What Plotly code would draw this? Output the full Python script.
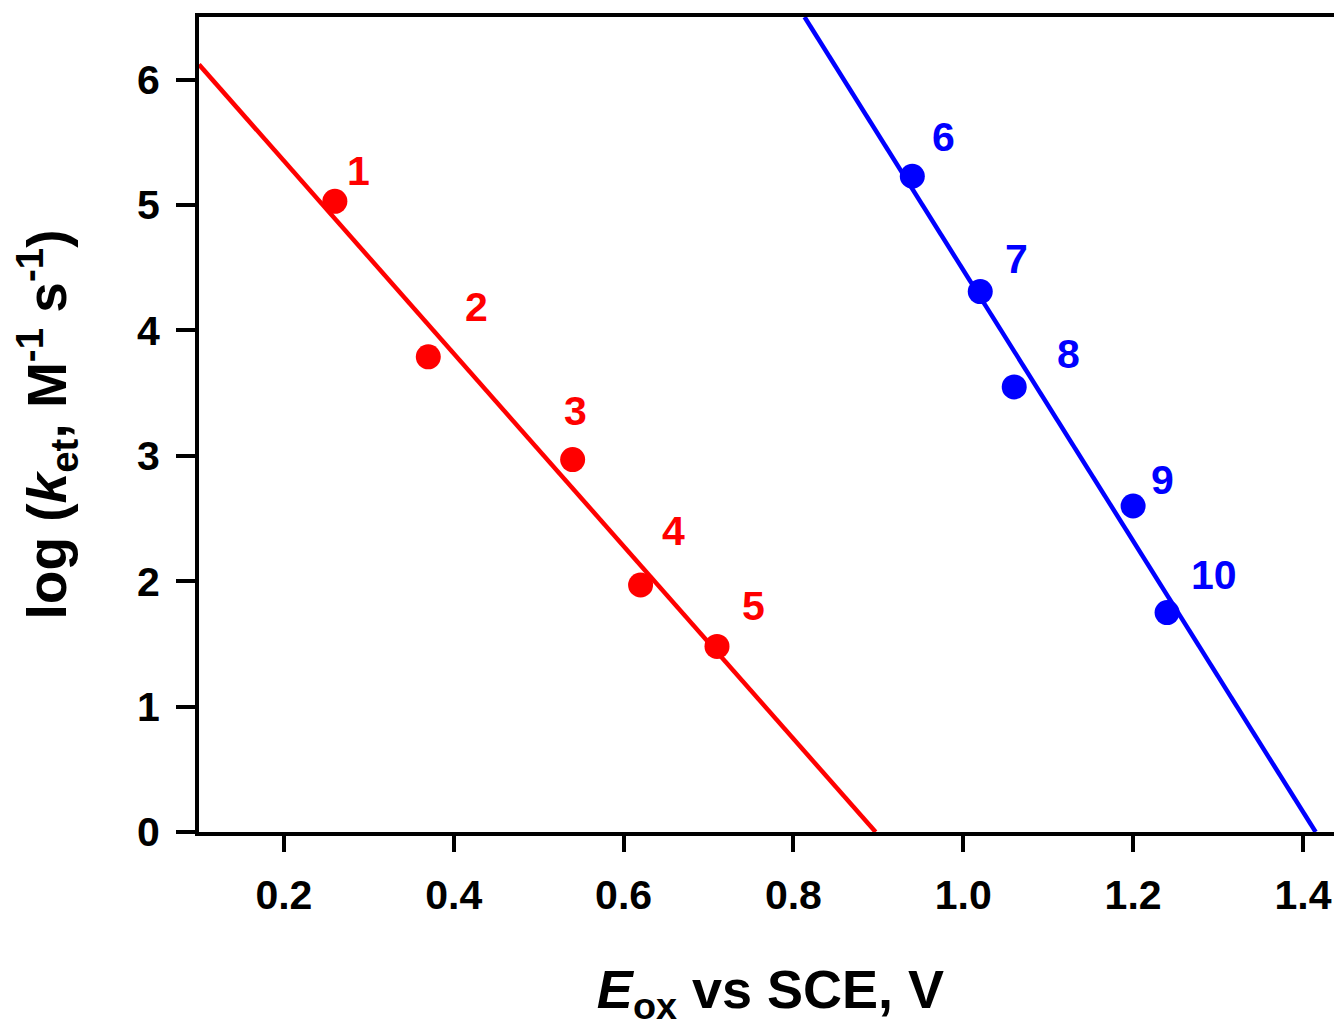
import numpy as np
import plotly.graph_objects as go

# Data
red_labels = ["1", "2", "3", "4", "5"]
red_x = [0.26, 0.37, 0.54, 0.62, 0.71]
red_y = [5.03, 3.79, 2.97, 1.97, 1.48]

blue_labels = ["6", "7", "8", "9", "10"]
blue_x = [0.94, 1.02, 1.06, 1.20, 1.24]
blue_y = [5.23, 4.31, 3.55, 2.60, 1.75]

x_ticks = [0.2, 0.4, 0.6, 0.8, 1.0, 1.2, 1.4]
x_tick_text = ["0.2", "0.4", "0.6", "0.8", "1.0", "1.2", "1.4"]
y_ticks = [0, 1, 2, 3, 4, 5, 6]

# styling / layout
X_RANGE = [0.1, 1.446]
Y_RANGE = [0, 6.5]
RED = "#FF0000"
BLUE = "#0000FF"
FONT = "Liberation Sans, Arial, sans-serif"
red_offsets = [(24, -30), (48, -50), (3, -49), (33, -54), (36, -40)]
blue_offsets = [(31, -39), (36, -33), (54, -33), (29, -26), (47, -38)]

fig = go.Figure()


def fit_line(xs, ys):
    m, b = np.polyfit(xs, ys, 1)
    xa = (Y_RANGE[1] - b) / m
    xb = (Y_RANGE[0] - b) / m
    x0 = max(X_RANGE[0], min(xa, xb))
    x1 = min(X_RANGE[1], max(xa, xb))
    xx = np.array([x0, x1])
    return xx, m * xx + b


for xs, ys, col in [(red_x, red_y, RED), (blue_x, blue_y, BLUE)]:
    lx, ly = fit_line(xs, ys)
    fig.add_trace(go.Scatter(x=lx, y=ly, mode="lines",
                             line=dict(color=col, width=4.5),
                             showlegend=False, hoverinfo="skip", cliponaxis=True))
    fig.add_trace(go.Scatter(x=xs, y=ys, mode="markers",
                             marker=dict(color=col, size=25, line=dict(width=0)),
                             showlegend=False, cliponaxis=False))

for labels, xs, ys, offs, col in [(red_labels, red_x, red_y, red_offsets, RED),
                                  (blue_labels, blue_x, blue_y, blue_offsets, BLUE)]:
    for lab, x, y, (dx, dy) in zip(labels, xs, ys, offs):
        fig.add_annotation(x=x, y=y, text="<b>%s</b>" % lab, showarrow=False,
                           xshift=dx, yshift=-dy,
                           font=dict(family=FONT, size=41, color=col))

fig.update_layout(
    width=1334, height=1021,
    margin=dict(l=191, r=0, t=9, b=197),
    paper_bgcolor="white", plot_bgcolor="white",
    font=dict(family=FONT, size=40, color="black"),
    showlegend=False,
)

fig.update_xaxes(
    range=X_RANGE, tickvals=x_ticks, ticktext=["<b>%s</b>" % t for t in x_tick_text],
    showline=True, linecolor="black", linewidth=4, mirror=True,
    ticks="outside", ticklen=16, tickwidth=4, tickcolor="black",
    ticklabelstandoff=8,
    showgrid=False, zeroline=False,
    tickfont=dict(family=FONT, size=41, color="black"),
    title=dict(text="<b><i>E</i><sub>ox</sub> vs SCE, V</b>",
               font=dict(family=FONT, size=54, color="black"), standoff=54),
)
fig.update_yaxes(
    range=Y_RANGE, tickvals=y_ticks, ticktext=["<b>%d</b>" % t for t in y_ticks],
    showline=True, linecolor="black", linewidth=4, mirror=False,
    ticks="outside", ticklen=19, tickwidth=4, tickcolor="black",
    ticklabelstandoff=8,
    showgrid=False, zeroline=False,
    tickfont=dict(family=FONT, size=41, color="black"),
    title=dict(text="<b>log (<i>k</i><sub>et</sub>, M<sup>-1</sup> s<sup>-1</sup>)</b>",
               font=dict(family=FONT, size=55, color="black"), standoff=56),
)

fig.write_html("out.html")
